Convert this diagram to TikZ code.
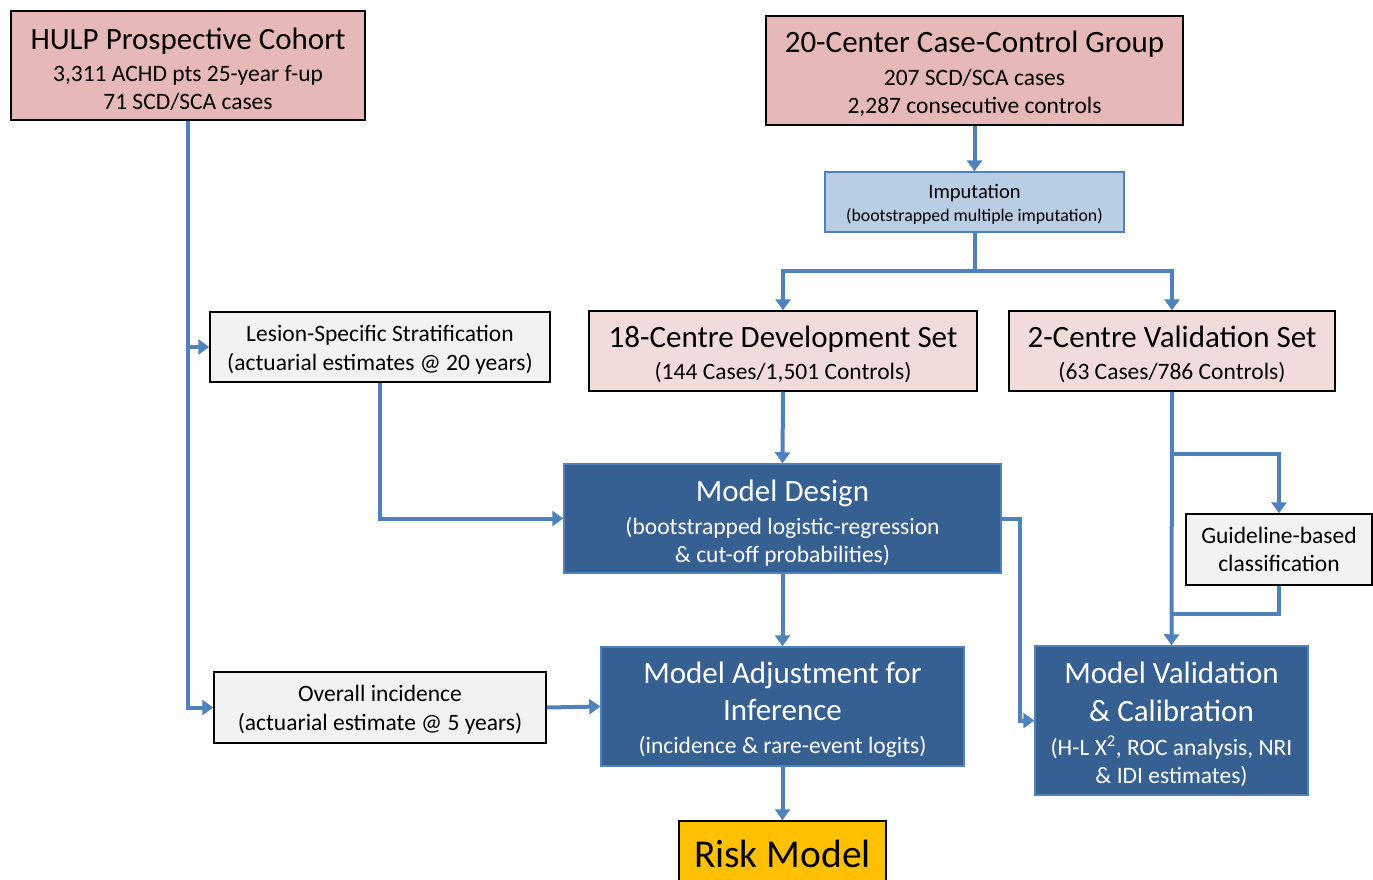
\documentclass[tikz,border=0pt]{standalone}
\usepackage{fontspec}
\setmainfont{Carlito}
\usetikzlibrary{arrows.meta}
\definecolor{pinkA}{HTML}{E6B9B8}
\definecolor{pinkB}{HTML}{F2DCDB}
\definecolor{grayA}{HTML}{F2F2F2}
\definecolor{blueL}{HTML}{B9CDE5}
\definecolor{blueD}{HTML}{376092}
\definecolor{lineB}{HTML}{4F81BD}
\definecolor{gold}{HTML}{FFC000}
\newcommand{\fs}[2]{\fontsize{#1}{#2}\selectfont}
\newcommand{\up}[1]{\rule{0pt}{#1}}
\tikzset{
  box/.style={draw=black, line width=1.5pt, inner sep=0pt, align=center, text=black},
  pinkbox/.style={box, fill=pinkA},
  lpinkbox/.style={box, fill=pinkB},
  graybox/.style={box, fill=grayA},
  imbox/.style={box, draw=lineB, fill=blueL},
  darkbox/.style={box, draw=lineB, fill=blueD, text=white},
  goldbox/.style={box, fill=gold},
  conn/.style={draw=lineB, line width=4pt},
  arr/.style={conn, -{Triangle[length=11pt,width=15pt]}}
}
\begin{document}
\begin{tikzpicture}[x=1pt,y=-1pt]
\useasboundingbox[fill=white] (0,0) rectangle (1373,880);

\node[pinkbox, minimum width=354, minimum height=109, font=\fs{23.5}{28}] (hulp) at (188,65.5)
  {{\fs{31}{32}\up{29pt}HULP Prospective Cohort}\\[4pt] 3,311 ACHD pts 25-year f-up\\ 71 SCD/SCA cases};
\node[pinkbox, minimum width=417, minimum height=109, font=\fs{23.5}{28}] (cc) at (974.5,70.5)
  {{\fs{31}{32}\up{29pt}20-Center Case-Control Group}\\[5pt] 207 SCD/SCA cases\\ 2,287 consecutive controls};
\node[imbox, minimum width=299, minimum height=60, font=\fs{17.8}{23}] (imp) at (974.5,202)
  {{\fs{20.5}{23}\up{18pt}Imputation}\\ (bootstrapped multiple imputation)};
\node[graybox, minimum width=340, minimum height=70, font=\fs{23.5}{29}] (lesion) at (380,347)
  {\up{21pt}Lesion-Specific Stratification\\ (actuarial estimates @ 20 years)};
\node[lpinkbox, minimum width=388, minimum height=80, font=\fs{23.5}{32}] (dev) at (783,351)
  {{\fs{31}{32}\up{29pt}18-Centre Development Set}\\ (144 Cases/1,501 Controls)};
\node[lpinkbox, minimum width=326, minimum height=80, font=\fs{23.5}{32}] (val) at (1172,351)
  {{\fs{31}{32}\up{29pt}2-Centre Validation Set}\\ (63 Cases/786 Controls)};
\node[darkbox, minimum width=437, minimum height=109, font=\fs{23.5}{28}] (design) at (782.5,518.5)
  {{\fs{31}{32}\up{30pt}Model Design}\\[5pt] (bootstrapped logistic-regression\\ \& cut-off probabilities)};
\node[graybox, minimum width=186, minimum height=71, font=\fs{23.5}{28}] (guide) at (1279,549.5)
  {Guideline-based\\ classification};
\node[graybox, minimum width=332, minimum height=71, font=\fs{23.5}{29}] (overall) at (380,707.5)
  {\up{21pt}Overall incidence\\ (actuarial estimate @ 5 years)};
\node[darkbox, minimum width=363, minimum height=119, font=\fs{23.5}{28}] (adj) at (782.5,706.5)
  {{\fs{31}{32}\up{28pt}Model Adjustment for}\\[9pt] {\fs{31}{32}Inference}\\[5pt] (incidence \& rare-event logits)};
\node[darkbox, minimum width=273, minimum height=149, font=\fs{23.5}{28}] (valid) at (1171.5,720.5)
  {{\fs{31}{32}\up{30pt}Model Validation}\\[10pt] {\fs{31}{32}\& Calibration}\\[6pt] (H-L X\textsuperscript{2}, ROC analysis, NRI\\ \& IDI estimates)};
\node[goldbox, minimum width=207, minimum height=70, font=\fs{39.5}{40}] (risk) at (782.5,856) {\raisebox{4pt}{Risk Model}};

\coordinate (split) at (974.5,271);
\coordinate (gs) at (1172,454);
\coordinate (gj) at (1172,614);

\draw[arr] (hulp.south) |- (lesion.west);
\draw[arr] (hulp.south) |- (overall.west);
\draw[arr] (cc.south) -- (imp.north);
\draw[conn] (imp.south) -- (split);
\draw[arr] (split) -| (dev.north);
\draw[arr] (split) -| (val.north);
\draw[arr] (lesion.south) |- (design.west);
\draw[arr] (dev.south) -- (design.north);
\draw[arr] (design.south) -- (adj.north);
\draw[arr] (design.east) -- ++(18,0) |- (valid.west);
\draw[arr] (overall.east) -- (adj.west);
\draw[arr] (adj.south) -- (risk.north);
\draw[arr] (val.south) -- (valid.north);
\draw[arr] (gs) -| (guide.north);
\draw[conn] (guide.south) |- (gj);
\end{tikzpicture}
\end{document}
